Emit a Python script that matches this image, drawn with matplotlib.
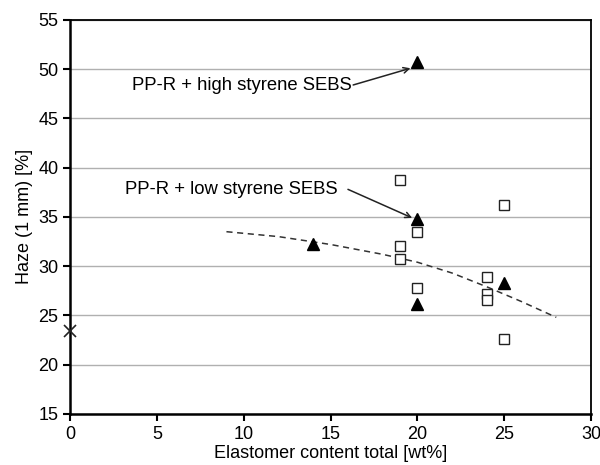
import numpy as np
import matplotlib
matplotlib.use("Agg")
import matplotlib.pyplot as plt

plt.rcParams['font.family'] = ['Liberation Sans', 'DejaVu Sans']

# PP-R + high / low styrene SEBS (filled triangles)
tri_x = [14, 20, 20, 20, 25]
tri_y = [32.3, 50.7, 34.8, 26.2, 28.3]

# other blends (open squares)
sq_x = [19, 19, 19, 20, 20, 24, 24, 24, 25, 25]
sq_y = [38.8, 32.0, 30.7, 33.5, 27.8, 28.9, 27.2, 26.6, 36.2, 22.6]

# reference PP-R
ref_x = [0]
ref_y = [23.4]

# trend line
trend_x = [9, 12, 15, 18, 20, 22, 24, 26, 28]
trend_y = [33.5, 33.0, 32.2, 31.2, 30.4, 29.3, 27.9, 26.4, 24.8]

fig = plt.figure(figsize=(6, 4.65), dpi=100)
ax = fig.add_axes([0.117, 0.11, 0.868, 0.847])

ax.set_xlim(0, 30)
ax.set_ylim(15, 55)
ax.set_xticks(np.arange(0, 31, 5))
ax.set_yticks(np.arange(15, 56, 5))
ax.yaxis.grid(True, color='#b0b0b0', linewidth=1)
ax.set_axisbelow(True)

for s in ['left', 'bottom']:
    ax.spines[s].set_linewidth(1.8)
for s in ['top', 'right']:
    ax.spines[s].set_linewidth(1.3)
ax.tick_params(direction='out', length=5, width=1.5, labelsize=13, colors='black')

ax.plot(trend_x, trend_y, linestyle=(0, (4, 3)), color='#333333', linewidth=1.1)
ax.plot(sq_x, sq_y, 's', mfc='white', mec='#222222', mew=1.0, ms=7.5, linestyle='none')
ax.plot(tri_x, tri_y, '^', color='black', ms=8, linestyle='none')
ax.plot(ref_x, ref_y, 'x', color='#222222', ms=8, mew=1.2, clip_on=False, zorder=5)

# labels and arrows
ax.text(16.2, 48.3, 'PP-R + high styrene SEBS', ha='right', va='center', fontsize=13.3)
ax.annotate('', xy=(19.6, 50.1), xytext=(16.3, 48.4),
            arrowprops=dict(arrowstyle='->', color='#222222', lw=1.1, shrinkA=0, shrinkB=0))
ax.text(15.4, 37.8, 'PP-R + low styrene SEBS', ha='right', va='center', fontsize=13.3)
ax.annotate('', xy=(19.7, 34.9), xytext=(16.0, 37.8),
            arrowprops=dict(arrowstyle='->', color='#222222', lw=1.1, shrinkA=0, shrinkB=0))

ax.set_xlabel('Elastomer content total [wt%]', fontsize=13, labelpad=2)
ax.set_ylabel('Haze (1 mm) [%]', fontsize=13, labelpad=4)

fig.savefig('out.png', dpi=100)
